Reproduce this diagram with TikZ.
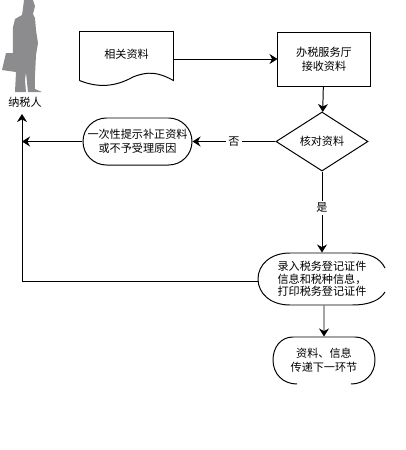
\documentclass[tikz,border=0pt]{standalone}
\usepackage{fontspec}
\setmainfont{Noto Sans CJK SC}
\usetikzlibrary{arrows.meta, positioning, shapes.geometric, shapes.misc}
\definecolor{cgrey}{HTML}{8C8C8E}
\tikzset{
  every picture/.style={font=\fontsize{7.9}{10}\selectfont, line width=0.7pt},
  box/.style={draw, align=center, minimum width=2.3cm, minimum height=1.35cm, inner sep=0pt},
  doc/.style={align=center, minimum width=2.325cm, minimum height=1.2cm, inner sep=0pt},
  decide/.style={diamond, draw, aspect=1.55, align=center, minimum width=2.3cm, minimum height=1.475cm, inner sep=0pt},
  oval/.style={rounded rectangle, align=center, inner sep=0pt},
  arrow/.style={-{Stealth[length=2mm, width=2.5mm]}},
  tag/.style={fill=white, inner sep=1.5pt},
}
\begin{document}
\begin{tikzpicture}[x=0.025cm, y=-0.025cm]
  \useasboundingbox (0,0) rectangle (406,450);
  % taxpayer silhouette
  \fill[cgrey] (24,0) -- (33,0) -- (35,6) -- (33,14) -- (35,18) -- (36,30) -- (38,43) -- (36,55) -- (35,75)
    -- (35,89) -- (42,92) -- (28,92) -- (26,72) -- (25,80) -- (26,92) -- (15,92) -- (16,72) -- (2,70) -- (6,53) -- (13,53)
    -- (13,27) -- (15,19) -- (22,15) -- (23,8) -- cycle;
  \node[inner sep=0pt] (payer) at (25,102) {纳税人};
  \coordinate (payerin) at (22,114);
  % first row
  \node[doc] (papers) at (126.5,56) {\raisebox{3pt}{相关资料}};
  \draw (papers.south west) -- (papers.north west) -- (papers.north east) -- (papers.south east)
    .. controls (158,72) and (148,71) .. (133,77) .. controls (115,87) and (98,88) .. (papers.south west);
  \node[box] (recv) at (324,59) {办税服务厅\\接收资料};
  \draw[arrow] (papers.east |- recv) -- (recv);
  % check and reject
  \node[decide] (check) at (322,141.5) {核对资料};
  \draw[arrow] (recv) -- (check);
  \node[oval, draw, minimum width=2.725cm, minimum height=1.175cm] (reject) at (137.5,141.5) {一次性提示补正资料\\或不予受理原因};
  \draw[arrow] (check) -- node[tag] (no) {否} (reject);
  \coordinate (rejectend) at (22,141.5);
  \draw[arrow] (reject) -- (rejectend);
  % register
  \node[oval, minimum width=3.175cm, minimum height=1.3cm, font=\fontsize{7.9}{9}\selectfont] (enter) at (322,279) {录入税务登记证件\\信息和税种信息，\\打印税务登记证件};
  \draw (385,268) .. controls (380,258) and (370,253) .. (352,253) -- (290,253) .. controls (270,253) and (258,265) .. (258,279)
    .. controls (258,293) and (270,305) .. (290,305) -- (352,305) .. controls (370,305) and (380,300) .. (385,292);
  \draw[arrow] (check) -- node[tag, pos=0.45] (yes) {是} (enter.north -| check);
  \coordinate (corner) at (22,281);
  \draw[arrow] (enter.west |- corner) -- (corner) -- (payerin);
  % pass on
  \node[oval, minimum width=2.55cm, minimum height=1.175cm] (pass) at (324,360.5) {资料、信息\\传递下一环节};
  \draw (297,384) .. controls (283,384) and (273,374) .. (273,360) .. controls (273,347) and (281,337) .. (293,337) -- (355,337)
    .. controls (367,337) and (375,347) .. (375,360) .. controls (375,374) and (365,384) .. (351,384);
  \draw[arrow] (enter.south -| pass) -- (pass);
\end{tikzpicture}
\end{document}
